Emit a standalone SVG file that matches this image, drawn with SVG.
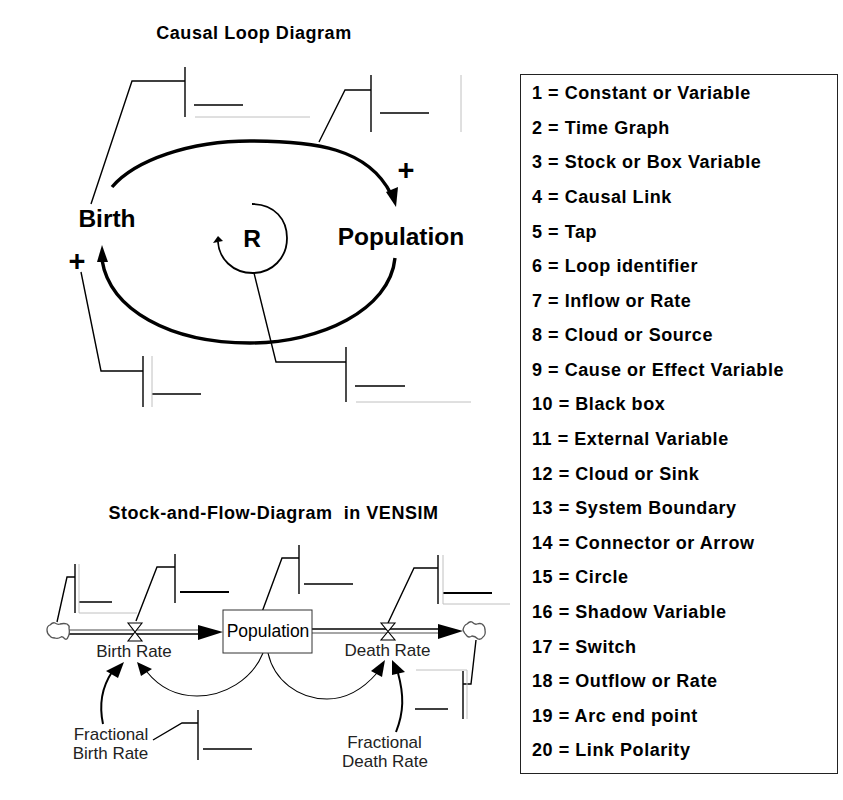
<svg xmlns="http://www.w3.org/2000/svg" width="843" height="800" viewBox="0 0 843 800">
<style>
text{font-family:"Liberation Sans",Arial,sans-serif;fill:#000}
.t{font-weight:bold;font-size:18px;letter-spacing:.55px}
.l{font-weight:bold;font-size:18px;letter-spacing:.55px}
.big{font-weight:bold;font-size:24.500px}
.v{font-size:17px;fill:#222}
.c{fill:none;stroke:#000;stroke-width:1.4}
.d{fill:none;stroke:#000;stroke-width:2}
.g{fill:none;stroke:#c0c0c0;stroke-width:1}
.k{fill:none;stroke:#000;stroke-width:1.1}
.w{fill:none;stroke:#000;stroke-width:3.4}
.h{fill:#000}
.p{fill:none;stroke:#000;stroke-width:1.6}
.pg{fill:none;stroke:#888;stroke-width:1.4}
.cl{fill:#fff;stroke:#555;stroke-width:1.3}
.vl{fill:#fff;stroke:#000;stroke-width:1.1}
</style>
<rect width="843" height="800" fill="#fff"/>
<text class="t" x="254" y="39" text-anchor="middle">Causal Loop Diagram</text>
<text class="t" x="273.500" y="519" text-anchor="middle" xml:space="preserve">Stock-and-Flow-Diagram  in VENSIM</text>

<g id="connectors">
<path class="w" d="M112 187C135 160 190 141 250 141C315 141 368 148 391 194"/>
<path class="h" d="M396 207L386 192L398 187Z"/>
<path class="w" d="M395 258C390 310 320 343 250 343C170 343 110 310 102 260"/>
<path class="h" d="M102 245L108 262L97 262Z"/>
<path class="k" style="stroke-width:1.8" d="M252 204C275 204 287 220 287 238C287 258 272 273 253 273C232 273 219 258 218 242"/>
<path class="h" d="M218 236L213 243L223 241Z"/>
<path class="pg" d="M69 630H200"/><path class="p" d="M69 634H200"/>
<path class="h" d="M198 625L223 632L198 640Z"/>
<path class="p" d="M312 629H440"/><path class="pg" d="M312 633H440"/>
<path class="h" d="M438 624L463 631L438 639Z"/>
<path class="k" d="M263 653C252 680 224 696 197 696C176 696 160 688 147 672"/>
<path class="h" d="M137 662L152 669L141 676Z"/>
<path class="d" d="M103 724C99 705 102 687 112 672"/>
<path class="h" d="M124 662L118 678L106 671Z"/>
<path class="k" d="M268 653C274 680 298 699 327 699C347 699 364 688 377 673"/>
<path class="h" d="M385 660L382 677L371 671Z"/>
<path class="d" d="M396 732C404 712 404 695 398 673"/>
<path class="h" d="M392 660L405 672L392 675Z"/>
</g>

<g id="callout-1"><path class="c" d="M91 204L132 81H185M185 67V117M194 105H243"/><path class="g" d="M195 117H310"/></g>
<g id="callout-2"><path class="c" d="M319 142L345 90H371M371 75V132M380 113H429"/><path class="g" d="M461 75V132"/></g>
<g id="callout-3"><path class="c" d="M254 273L276 362H346M346 347V402M355 386H405"/><path class="g" d="M356 402H471"/></g>
<g id="callout-4"><path class="c" d="M81 272L101 371H143M143 356V407M152 394H201"/><path class="g" d="M152 356V407"/></g>
<g id="callout-5"><path class="c" d="M57 622L67 577H75M75 564V613M79 602H112"/><path class="g" d="M79 564V613H137"/></g>
<g id="callout-6"><path class="c" d="M136 621L157 567H175M175 554V603"/><path class="d" d="M180 592H229"/></g>
<g id="callout-7"><path class="c" d="M262 612L282 558H299M299 545V594M304 584H353"/></g>
<g id="callout-8"><path class="c" d="M388 623L414 568H438M438 555V604"/><path class="d" d="M443 593H492"/><path class="g" d="M443 555V604H510"/></g>
<g id="callout-9"><path class="c" d="M476 640L471 684H463M463 671V719M415 709H448"/><path class="g" d="M416 670H467V719"/></g>
<g id="callout-10"><path class="c" d="M153 740L182 723H198M198 710V760M203 749H252"/></g>

<g id="birth"><text class="big" x="107" y="227" text-anchor="middle">Birth</text></g>
<g id="population-loop"><text class="big" x="401" y="245" text-anchor="middle">Population</text></g>
<g id="loop-r"><text class="big" x="252" y="247" text-anchor="middle">R</text></g>
<g id="plus-1"><text class="big" x="406" y="180" text-anchor="middle" style="font-size:29px">+</text></g>
<g id="plus-2"><text class="big" x="77" y="271" text-anchor="middle" style="font-size:29px">+</text></g>

<g id="cloud-source"><path class="cl" d="M47 630Q47 626 50 625Q53 622 55 623Q58 625 60 624Q64 623 67 624Q70 626 69 628Q70 634 68 637Q67 640 65 639Q62 636 61 637Q58 639 55 638Q51 638 50 636Q47 634 47 630Z"/></g>
<g id="cloud-sink"><path class="cl" d="M463 630Q464 625 467 624Q470 621 472 622Q475 625 477 624Q480 623 482 624Q485 626 485 630Q486 635 483 637Q481 640 478 639Q475 636 472 636Q469 638 467 636Q464 633 463 630Z"/></g>
<g id="valve-birth"><path class="vl" d="M128 623H142L128 641H142Z"/></g>
<g id="valve-death"><path class="vl" d="M381 623H395L381 640H395Z"/></g>
<g id="stock-population"><rect x="223" y="610" width="89" height="43" fill="#fff" stroke="#333" stroke-width="1"/><text x="268" y="637" text-anchor="middle" style="font-size:17.500px">Population</text></g>
<g id="birth-rate"><text class="v" x="134" y="657" text-anchor="middle">Birth Rate</text></g>
<g id="death-rate"><text class="v" x="387.500" y="656" text-anchor="middle">Death Rate</text></g>
<g id="fractional-birth-rate"><text class="v" x="111" y="740" text-anchor="middle">Fractional</text><text class="v" x="110.500" y="759" text-anchor="middle">Birth Rate</text></g>
<g id="fractional-death-rate"><text class="v" x="384.500" y="748" text-anchor="middle">Fractional</text><text class="v" x="385" y="767" text-anchor="middle">Death Rate</text></g>

<g id="legend">
<rect x="520.500" y="74.500" width="317" height="699" fill="none" stroke="#222" stroke-width="1"/>
<text class="l" x="532" y="99.200">1 = Constant or Variable</text>
<text class="l" x="532" y="133.800">2 = Time Graph</text>
<text class="l" x="532" y="168.400">3 = Stock or Box Variable</text>
<text class="l" x="532" y="202.900">4 = Causal Link</text>
<text class="l" x="532" y="237.500">5 = Tap</text>
<text class="l" x="532" y="272.100">6 = Loop identifier</text>
<text class="l" x="532" y="306.700">7 = Inflow or Rate</text>
<text class="l" x="532" y="341.300">8 = Cloud or Source</text>
<text class="l" x="532" y="375.800">9 = Cause or Effect Variable</text>
<text class="l" x="532" y="410.400">10 = Black box</text>
<text class="l" x="532" y="445">11 = External Variable</text>
<text class="l" x="532" y="479.600">12 = Cloud or Sink</text>
<text class="l" x="532" y="514.200">13 = System Boundary</text>
<text class="l" x="532" y="548.700">14 = Connector or Arrow</text>
<text class="l" x="532" y="583.300">15 = Circle</text>
<text class="l" x="532" y="617.900">16 = Shadow Variable</text>
<text class="l" x="532" y="652.500">17 = Switch</text>
<text class="l" x="532" y="687.100">18 = Outflow or Rate</text>
<text class="l" x="532" y="721.600">19 = Arc end point</text>
<text class="l" x="532" y="756.200">20 = Link Polarity</text>
</g>
</svg>
